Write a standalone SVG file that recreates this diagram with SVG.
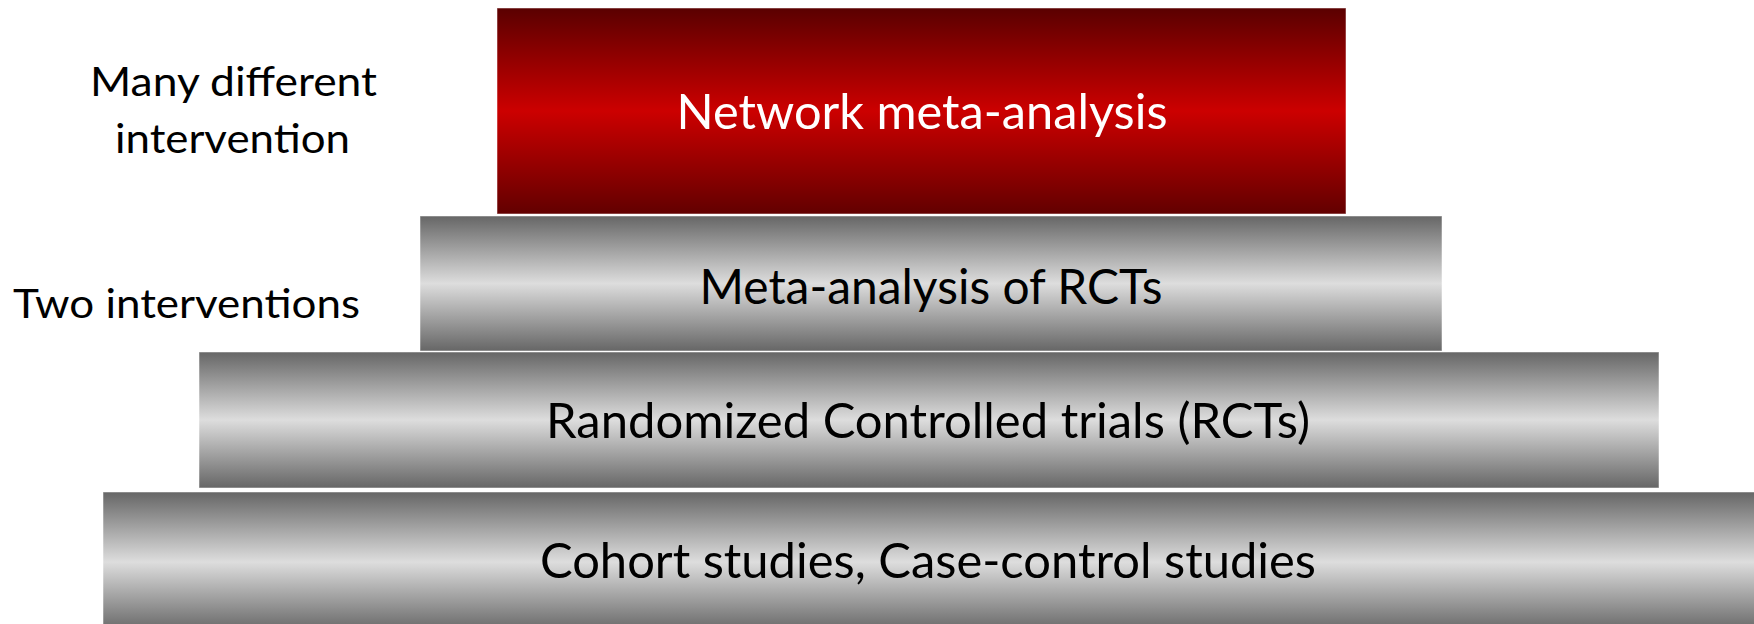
<svg xmlns="http://www.w3.org/2000/svg" width="1754" height="624" viewBox="0 0 1754 624">
<defs>
<linearGradient id="gRed" x1="0" y1="0" x2="0" y2="1">
<stop offset="0" stop-color="#5a0000"/>
<stop offset="0.5" stop-color="#cc0000"/>
<stop offset="1" stop-color="#620000"/>
</linearGradient>
<linearGradient id="gGray" x1="0" y1="0" x2="0" y2="1">
<stop offset="0" stop-color="#666666"/>
<stop offset="0.5" stop-color="#dddddd"/>
<stop offset="1" stop-color="#666666"/>
</linearGradient>
</defs>
<style>
.box{stroke:#ffffff;stroke-opacity:0.5;stroke-width:1}
.red{fill:url(#gRed)}
.gray{fill:url(#gGray)}
.t{font-family:Lato,"Open Sans","Liberation Sans",sans-serif;font-size:48px;text-anchor:middle}
.w{fill:#ffffff}
.k{fill:#000000}
.lbl{font-family:Lato,"Open Sans","Liberation Sans",sans-serif;font-size:40px;fill:#000000}
</style>
<rect width="1754" height="624" fill="#ffffff"/>
<g id="connectors"></g>
<g id="level-cohort">
<rect class="box gray" x="103" y="492" width="1660" height="140"/>
<text class="t k" x="928" y="578" textLength="776" lengthAdjust="spacingAndGlyphs">Cohort studies, Case-control studies</text>
</g>
<g id="level-rct">
<rect class="box gray" x="199" y="352" width="1460" height="136"/>
<text class="t k" x="928" y="438" textLength="764" lengthAdjust="spacingAndGlyphs">Randomized Controlled trials (RCTs)</text>
</g>
<g id="level-meta">
<rect class="box gray" x="420" y="216" width="1022" height="135"/>
<text class="t k" x="931" y="304" textLength="463" lengthAdjust="spacingAndGlyphs">Meta-analysis of RCTs</text>
</g>
<g id="level-nma">
<rect class="box red" x="497" y="8" width="849" height="206"/>
<text class="t w" x="922" y="129" textLength="491" lengthAdjust="spacingAndGlyphs">Network meta-analysis</text>
</g>
<g id="label-many">
<text class="lbl" x="90" y="96" textLength="287" lengthAdjust="spacingAndGlyphs">Many different</text>
<text class="lbl" x="115" y="153" textLength="235" lengthAdjust="spacingAndGlyphs">intervention</text>
</g>
<g id="label-two">
<text class="lbl" x="13" y="318" textLength="347" lengthAdjust="spacingAndGlyphs">Two interventions</text>
</g>
</svg>
